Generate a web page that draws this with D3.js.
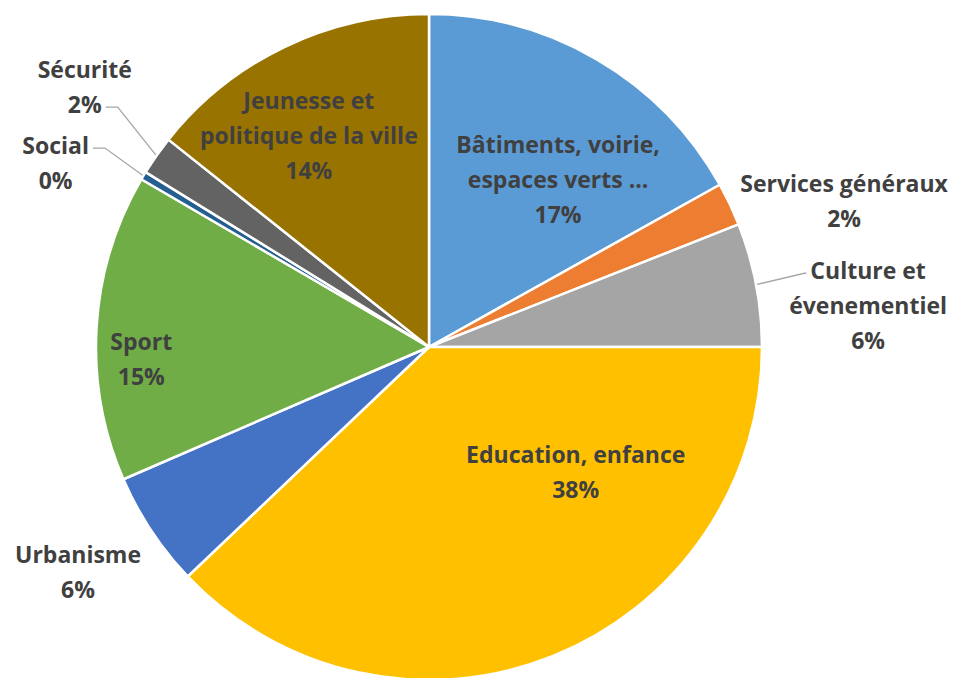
<!DOCTYPE html>
<html lang="fr">
<head>
<meta charset="utf-8">
<script src="https://cdn.jsdelivr.net/npm/d3@7"></script>
<style>
  html, body { margin: 0; padding: 0; background: #ffffff; }
  svg { display: block; }
  text { font-family: "Open Sans", "Lato", sans-serif; font-weight: 700; fill: #404040; }
</style>
</head>
<body>
<svg id="chart" width="957" height="678"></svg>
<script>
// Répartition du budget par domaine (en % du total)
const categories = [
  "Bâtiments, voirie, espaces verts ...",
  "Services généraux",
  "Culture et évenementiel",
  "Education, enfance",
  "Urbanisme",
  "Sport",
  "Social",
  "Sécurité",
  "Jeunesse et politique de la ville"
];
const shares = [16.9, 2.1, 6.0, 37.9, 5.6, 14.9, 0.4, 1.9, 14.3];
const sliceColors = ["#5B9BD5", "#ED7D31", "#A5A5A5", "#FFC000", "#4472C4", "#70AD47", "#255E91", "#636363", "#997300"];

// Line breaks used for each category label
const labelLines = [
  ["Bâtiments, voirie,", "espaces verts ..."],
  ["Services généraux"],
  ["Culture et", "évenementiel"],
  ["Education, enfance"],
  ["Urbanisme"],
  ["Sport"],
  ["Social"],
  ["Sécurité"],
  ["Jeunesse et", "politique de la ville"]
];

// Label placement: distance from centre and angular shift (degrees) from the slice's mid-angle
const labelRadius = [211, 440, 441, 193, 417, 288, 416, 431, 243];
const labelShift  = [7.3, 6.0, 5.5, -27.7, 0.8, -5.9, -4.8, 1.9, -3.9];
// Leader lines: which text line they attach to, and on which side
const leaderLine = [null, null, {line: 0, side: "left"}, null, null, null, {line: 0, side: "right"}, {line: 1, side: "right"}, null];

const W = 957, H = 678;
const cx = 429, cy = 347, R = 333;
const fontSize = 23, lineH = 35;

const svg = d3.select("#chart");
const g = svg.append("g").attr("transform", `translate(${cx},${cy})`);

const data = categories.map((c, i) => ({ name: c, value: shares[i], i }));

const pie = d3.pie().value(d => d.value).sort(null);
const arc = d3.arc().innerRadius(0).outerRadius(R);
const arcs = pie(data);

g.selectAll("path.slice")
  .data(arcs)
  .join("path")
  .attr("class", "slice")
  .attr("d", arc)
  .attr("fill", d => sliceColors[d.data.i])
  .attr("stroke", "#ffffff")
  .attr("stroke-width", 2.5)
  .attr("stroke-linejoin", "round");

const polar = (angleRad, r) => [Math.sin(angleRad) * r, -Math.cos(angleRad) * r];

const labelLayer = g.append("g");
arcs.forEach(a => {
  const i = a.data.i;
  const mid = (a.startAngle + a.endAngle) / 2;
  const [lx, ly] = polar(mid + labelShift[i] * Math.PI / 180, labelRadius[i]);
  const lines = labelLines[i].concat([Math.round(a.data.value) + "%"]);
  const n = lines.length;
  const top = ly - (n - 1) * lineH / 2;

  const t = labelLayer.append("text")
    .attr("text-anchor", "middle")
    .style("font-size", fontSize + "px");
  const spans = lines.map((s, k) =>
    t.append("tspan")
      .attr("x", lx)
      .attr("y", top + k * lineH)
      .attr("dy", "0.35em")
      .text(s)
  );

  const lead = leaderLine[i];
  if (lead) {
    const sp = spans[lead.line];
    const w = sp.node().getComputedTextLength();
    const ty = top + lead.line * lineH + 2;
    const p0 = polar(mid, R + 1);
    let p2, p1;
    if (lead.side === "right") {
      p2 = [lx + w / 2 + 4, ty];
      p1 = [p2[0] + 12, ty];
    } else {
      p2 = [lx - w / 2 - 4, ty];
      p1 = [p2[0] - 2, ty];
    }
    labelLayer.insert("path", "text")
      .attr("d", d3.line()([p0, p1, p2]))
      .attr("fill", "none")
      .attr("stroke", "#A6A6A6")
      .attr("stroke-width", 1.3);
  }
});
</script>
</body>
</html>
